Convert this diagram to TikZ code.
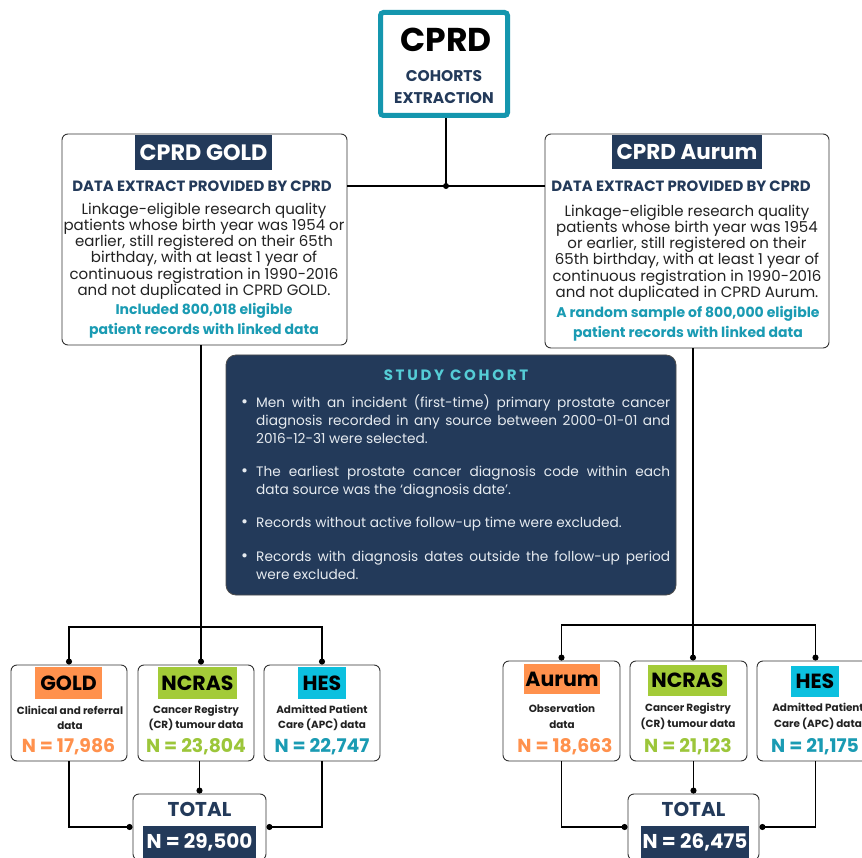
\documentclass[tikz,border=0pt]{standalone}
\usepackage{fontspec}
\setmainfont{Poppins}
\usetikzlibrary{arrows.meta}
\definecolor{navy}{HTML}{233A5A}
\definecolor{cprdteal}{HTML}{1496AE}
\definecolor{tealtxt}{HTML}{1A9BB3}
\definecolor{orangeL}{HTML}{FF914D}
\definecolor{greenL}{HTML}{A3CB38}
\definecolor{greenT}{HTML}{9CC63A}
\definecolor{cyanL}{HTML}{0CC0DF}
\definecolor{cohorttitle}{HTML}{55CDD6}
\definecolor{bodygray}{HTML}{222222}
\definecolor{lighttxt}{HTML}{E6EBF0}
\newcommand{\mybullet}{\leavevmode\llap{\raisebox{0.5pt}{\fontsize{17}{17}\selectfont\textbullet}\hspace{8pt}}}
\begin{document}
\begin{tikzpicture}[x=1pt,y=-1pt,
  box/.style={draw=black!80, line width=0.9pt, rounded corners=6pt, fill=white, inner sep=0pt},
  conn/.style={line width=1.3pt, black},
  dotc/.style={conn, -{Circle[length=6pt,width=6pt]}},
  navylabel/.style={fill=navy, text=white, inner sep=0pt, font=\fontsize{20}{24}\selectfont\bfseries},
  srclabel/.style={inner sep=0pt, text=black, font=\fontsize{20.5}{22}\selectfont\bfseries},
  desc/.style={align=center, text=bodygray, font=\fontsize{10.4}{15.5}\selectfont\bfseries},
  ntext/.style={font=\fontsize{18.8}{20}\selectfont\bfseries},
  extract/.style={text=navy, font=\fontsize{14.9}{16}\selectfont\bfseries},
  body/.style={align=center, text=bodygray, font=\fontsize{15}{16.2}\selectfont},
  incl/.style={align=center, text=tealtxt, font=\fontsize{14}{20}\selectfont\bfseries},
  totaltxt/.style={text=navy, font=\fontsize{20}{22}\selectfont\bfseries}
]
\useasboundingbox (0,0) rectangle (862,858);
\fill[white] (0,0) rectangle (862,858);

% ---- top CPRD box
\node[draw=cprdteal, line width=5pt, rounded corners=3pt, fill=white, minimum width=127pt, minimum height=103pt, inner sep=0pt] (cprd) at (444,64) {};
\node[font=\fontsize{33}{36}\selectfont\bfseries] (cprdt) at (446,40) {CPRD};
\node[align=center, text=navy, font=\fontsize{15.5}{22}\selectfont\bfseries] (cprds) at (444,87) {COHORTS\\EXTRACTION};

% ---- GOLD box
\node[box, minimum width=285pt, minimum height=211pt] (gold) at (204.5,239.5) {};
\node[navylabel, minimum width=137pt, minimum height=35pt, font=\fontsize{22.3}{24}\selectfont\bfseries] (goldt) at (203.5,152.5) {CPRD GOLD};
\node[extract] (golde) at (202,186) {DATA EXTRACT PROVIDED BY CPRD};
\node[body] (goldb) at (204,251) {Linkage-eligible research quality\\patients whose birth year was 1954 or\\earlier, still registered on their 65th\\birthday, with at least 1 year of\\continuous registration in 1990-2016\\and not duplicated in CPRD GOLD.};
\node[incl] (goldi) at (204,321) {Included 800,018 eligible\\patient records with linked data};

% ---- Aurum box
\node[box, minimum width=284pt, minimum height=214pt] (aur) at (687,241) {};
\node[navylabel, minimum width=150pt, minimum height=34pt, font=\fontsize{21.5}{24}\selectfont\bfseries] (aurt) at (687,152) {CPRD Aurum};
\node[extract] (aure) at (681,186) {DATA EXTRACT PROVIDED BY CPRD};
\node[body] (aurb) at (687,253) {Linkage-eligible research quality\\patients whose birth year was 1954\\or earlier, still registered on their\\65th birthday, with at least 1 year of\\continuous registration in 1990-2016\\and not duplicated in CPRD Aurum.};
\node[incl] (auri) at (688,324) {A random sample of 800,000 eligible\\patient records with linked data};

% ---- top connectors
\coordinate (jtop) at (446,186);
\draw[conn] (cprd.south -| jtop) -- (jtop);
\draw[conn] (gold.east |- jtop) -- (aur.west |- jtop);
\fill (jtop) circle (3pt);

% ---- study cohort
\node[fill=navy, draw=black!70, line width=0.8pt, rounded corners=10pt, minimum width=450pt, minimum height=240pt, inner sep=0pt] (cohort) at (451,475) {};
\node[text=cohorttitle, font=\fontsize{15}{16}\selectfont\bfseries\addfontfeatures{LetterSpace=18}] (cohortt) at (456,375) {STUDY COHORT};
\node[anchor=north west, text width=414pt, align=justify, text=lighttxt, font=\fontsize{13.7}{17.6}\selectfont, inner sep=0pt] (cohortb) at (256,395) {%
\parindent=0pt
\mybullet Men with an incident (first-time) primary prostate cancer\linebreak diagnosis recorded in any source between 2000-01-01 and\linebreak 2016-12-31 were selected.\par\vspace{16pt}
\mybullet The earliest prostate cancer diagnosis code within each\linebreak data source was the ‘diagnosis date’.\par\vspace{16pt}
\mybullet Records without active follow-up time were excluded.\par\vspace{16pt}
\mybullet Records with diagnosis dates outside the follow-up period\linebreak were excluded.\par};

% ---- left source boxes
\node[box, minimum width=116pt, minimum height=96pt] (lgold) at (69,713) {};
\node[box, minimum width=116pt, minimum height=96pt] (lncras) at (196,713) {};
\node[box, minimum width=116pt, minimum height=96pt] (lhes) at (322,713) {};
\node[srclabel, fill=orangeL, minimum width=67pt, minimum height=32pt] (lgoldl) at (68.5,683) {GOLD};
\node[srclabel, fill=greenL, minimum width=79pt, minimum height=32pt] (lncrasl) at (197.5,683) {NCRAS};
\node[srclabel, fill=cyanL, minimum width=48pt, minimum height=32pt] (lhesl) at (322,683) {HES};
\node[desc] (lgoldd) at (70,718) {Clinical and referral\\data};
\node[desc] (lncrasd) at (196,718) {Cancer Registry\\(CR) tumour data};
\node[desc] (lhesd) at (322,718) {Admitted Patient\\Care (APC) data};
\node[ntext, text=orangeL] (lgoldn) at (68.5,747) {N = 17,986};
\node[ntext, text=greenT] (lncrasn) at (196,747) {N = 23,804};
\node[ntext, text=tealtxt] (lhesn) at (322,747) {N = 22,747};

\node[box, minimum width=133pt, minimum height=66pt] (ltot) at (199.5,827) {};
\node[totaltxt] (ltott) at (199.5,809) {TOTAL};
\node[navylabel, minimum width=113pt, minimum height=33pt] (ltotn) at (199.5,842) {N = 29,500};

% ---- right source boxes
\node[box, minimum width=117pt, minimum height=100pt] (raur) at (561.5,711) {};
\node[box, minimum width=117pt, minimum height=100pt] (rncras) at (688.5,711) {};
\node[box, minimum width=117pt, minimum height=100pt] (rhes) at (815.5,711) {};
\node[srclabel, fill=orangeL, minimum width=76pt, minimum height=30pt] (raurl) at (562,679) {Aurum};
\node[srclabel, fill=greenL, minimum width=79pt, minimum height=31pt] (rncrasl) at (687.5,680) {NCRAS};
\node[srclabel, fill=cyanL, minimum width=48pt, minimum height=31pt] (rhesl) at (815,681) {HES};
\node[desc] (raurd) at (562,716.5) {Observation\\data};
\node[desc] (rncrasd) at (688,716.5) {Cancer Registry\\(CR) tumour data};
\node[desc] (rhesd) at (818,716.5) {Admitted Patient\\Care (APC) data};
\node[ntext, text=orangeL] (raurn) at (565,747) {N = 18,663};
\node[ntext, text=greenT] (rncrasn) at (688,747) {N = 21,123};
\node[ntext, text=tealtxt] (rhesn) at (815,747) {N = 21,175};

\node[box, minimum width=131pt, minimum height=66pt] (rtot) at (693.5,827) {};
\node[totaltxt] (rtott) at (693.5,809) {TOTAL};
\node[navylabel, minimum width=108pt, minimum height=33pt] (rtotn) at (695,842) {N = 26,475};

% ---- left connectors
\coordinate (lsplit) at (201,627);
\draw[conn] (gold.south -| lsplit) -- (lsplit);
\draw[dotc] (lsplit) -| (lgold.north);
\draw[dotc] (lsplit) -| (lhes.north);
\draw[dotc] (lsplit) -- (lsplit |- lncras.north);
\draw[dotc] (lgold.south) |- (ltot.west);
\draw[dotc] (lhes.south) |- (ltot.east);
\draw[dotc] (ltot.north |- lncras.south) -- (ltot.north);

% ---- right connectors
\coordinate (rsplit) at (693,625);
\draw[conn] (aur.south -| rsplit) -- (rsplit);
\draw[dotc] (rsplit) -| (raur.north);
\draw[dotc] (rsplit) -| (rhes.north);
\draw[dotc] (rsplit) -- (rsplit |- rncras.north);
\draw[dotc] (raur.south) |- (rtot.west);
\draw[dotc] (rhes.south) |- (rtot.east);
\draw[dotc] (rtot.north |- rncras.south) -- (rtot.north);
\end{tikzpicture}
\end{document}
